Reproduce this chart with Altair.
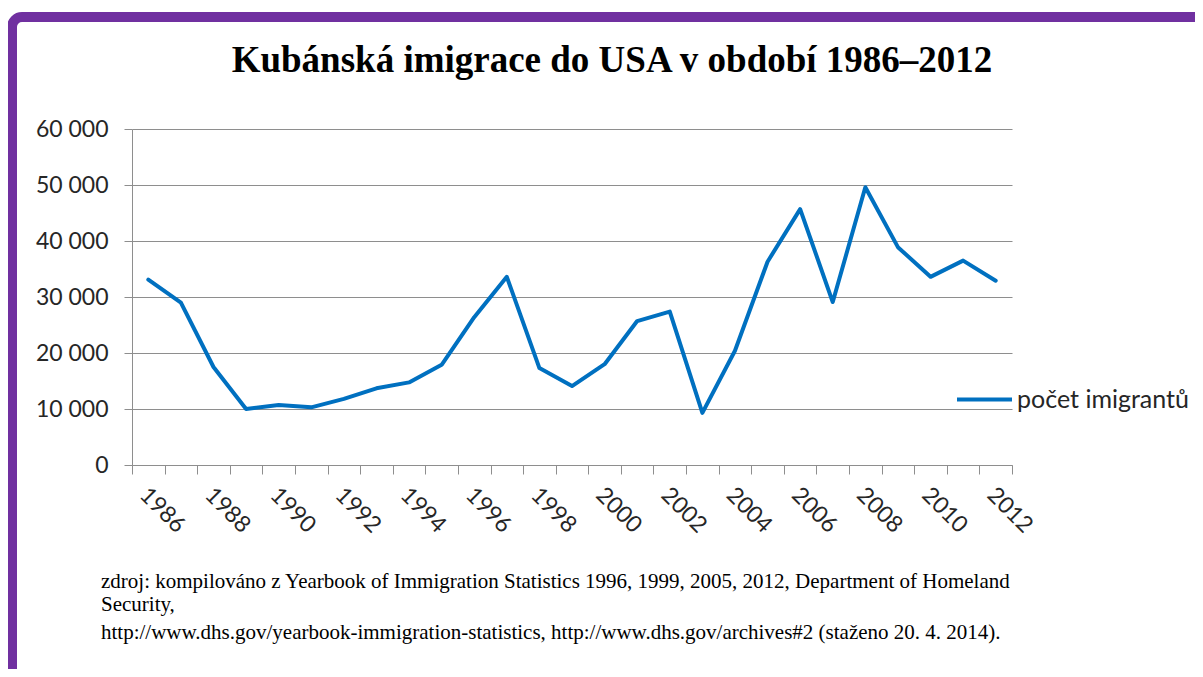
import altair as alt
import pandas as pd

years = list(range(1986, 2013))
immigrants = [33100, 29000, 17500, 10000, 10700, 10300, 11800, 13700, 14750, 17900,
              26400, 33600, 17300, 14100, 18000, 25700, 27400, 9300, 20400, 36300,
              45700, 29100, 49600, 38900, 33600, 36500, 32900]
series_name = "počet imigrantů"
title_text = "Kubánská imigrace do USA v období 1986–2012"
footnote_lines = [
    "zdroj: kompilováno z Yearbook of Immigration Statistics 1996, 1999, 2005, 2012, Department of Homeland",
    "Security,",
    "http://www.dhs.gov/yearbook-immigration-statistics, http://www.dhs.gov/archives#2 (staženo  20. 4. 2014).",
]
y_ticks = [0, 10000, 20000, 30000, 40000, 50000, 60000]

df = pd.DataFrame({"rok": years, "pocet": immigrants, "serie": [series_name] * len(years)})

GRID = "#8E8E8E"
TEXT = "#262626"
SANS = "Lato"
SERIF = "Liberation Serif"

x_tick_values = [y - 0.5 for y in years] + [years[-1] + 0.5]

line = alt.Chart(df).mark_line(strokeWidth=4, strokeJoin="round", strokeCap="round").encode(
    x=alt.X("rok:Q",
            scale=alt.Scale(domain=[years[0] - 0.5, years[-1] + 0.5], nice=False, zero=False),
            axis=alt.Axis(values=x_tick_values, title=None, grid=False,
                          domainColor=GRID, tickColor=GRID, tickSize=9,
                          labelExpr="((datum.value + 0.5) % 2 == 0 && datum.value < 2012) ? '' + (datum.value + 0.5) : ''",
                          labelAngle=45, labelAlign="left", labelBaseline="middle",
                          labelOffset=11, labelPadding=17, labelFont=SANS, labelFontSize=23,
                          labelColor=TEXT, labelOverlap=False, labelFlush=False, labelBound=False)),
    y=alt.Y("pocet:Q",
            scale=alt.Scale(domain=[0, 60000], nice=False),
            axis=alt.Axis(values=y_ticks, title=None, grid=True, gridColor=GRID,
                          domainColor=GRID, tickColor=GRID, tickSize=8,
                          labelExpr="replace(format(datum.value, ','), ',', ' ')",
                          labelPadding=16, labelFont=SANS, labelFontSize=23, labelColor=TEXT)),
    color=alt.Color("serie:N", scale=alt.Scale(range=["#0070C0"]),
                    legend=alt.Legend(title=None, orient="none", legendX=823, legendY=241,
                                      symbolType="stroke", symbolStrokeWidth=4, symbolSize=3025,
                                      labelFont=SANS, labelFontSize=25, labelColor=TEXT,
                                      labelOffset=3, labelLimit=400, padding=0)),
)

one = pd.DataFrame({"t": [title_text]})
title = alt.Chart(one).mark_text(font=SERIF, fontSize=37, fontWeight="bold", color="black",
                                 align="center", baseline="alphabetic").encode(
    text="t:N", x=alt.value(480), y=alt.value(-57))

border = alt.Chart(pd.DataFrame({"b": [1]})).mark_rect(
    filled=False, stroke="#7030A0", strokeWidth=10, cornerRadius=10).encode(
    x=alt.value(-120), x2=alt.value(1300), y=alt.value(-112), y2=alt.value(800))

foot_y = [123, 146, 174]
foot_layers = []
for txt, yy in zip(footnote_lines, foot_y):
    foot_layers.append(
        alt.Chart(pd.DataFrame({"t": [txt]})).mark_text(
            font=SERIF, fontSize=21, color="black", align="left", baseline="alphabetic").encode(
            text="t:N", x=alt.value(-31), y=alt.value(336 + yy))
    )

chart = alt.layer(border, line, title, *foot_layers).properties(
    width=880, height=336,
    autosize=alt.AutoSizeParams(type="none"),
    padding={"left": 124, "top": 121, "right": 183, "bottom": 204},
    background="white",
).configure_view(stroke=None)

chart.save("out.html", embed_options={"renderer": "svg", "actions": False})
